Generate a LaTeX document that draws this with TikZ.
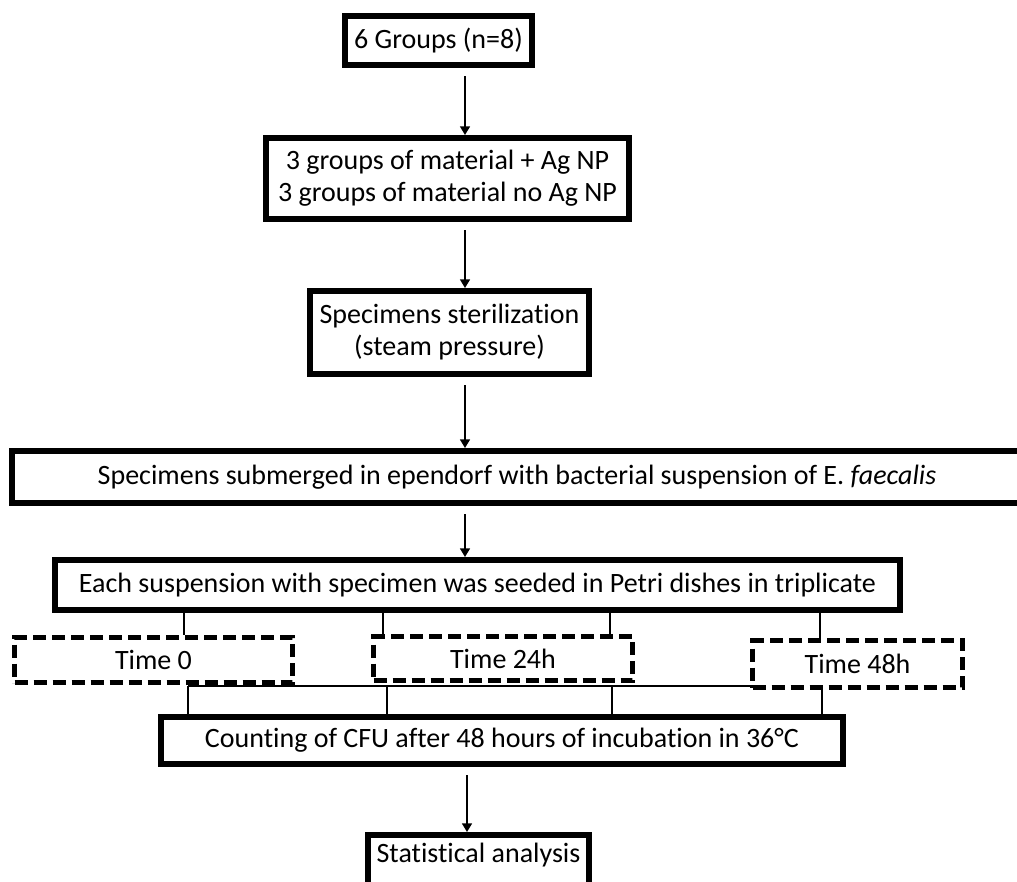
\documentclass[tikz,border=0pt]{standalone}
\usepackage{fontspec}
\setmainfont{Carlito}[Ligatures=NoCommon]
\usetikzlibrary{arrows.meta}
\usetikzlibrary{backgrounds}

\tikzset{
        stagebox/.style = {draw, line width=6pt, fill=white, inner sep=0pt, align=center},
        timebox/.style  = {draw, line width=5pt, fill=white, inner sep=0pt, dash pattern=on 13pt off 6pt},
        flow/.style     = {line width=1.5pt, arrows = -{Triangle[angle=60:10pt]}, shorten <=8pt},
        link/.style     = {line width=1.5pt}
}

\begin{document}
\begin{tikzpicture}[x=1pt, y=-1pt, font=\fontsize{28}{32}\selectfont]

        \useasboundingbox (0,0) rectangle (1017,881);
        \clip (0,0) rectangle (1017,881);

        % \draw [help lines, step=50] (0,0) grid (1017,881);

        \coordinate (axis) at (465,0);

        \path   (438.5,40.5) node (groups)   [stagebox, minimum width=187, minimum height=49] {6 Groups (n=8)}
                (447.5,178.5) node (material) [stagebox, minimum width=363, minimum height=81]
                        {3 groups of material + Ag NP\\3 groups of material no Ag NP}
                (449.5,332.5) node (steril)   [stagebox, minimum width=279, minimum height=83]
                        {Specimens sterilization\\(steam pressure)}
                (517,477)     node (submerge) [stagebox, minimum width=1010, minimum height=52]
                        {Specimens submerged in ependorf with bacterial suspension of E. \textit{faecalis}}
                (477.5,585)   node (seed)     [stagebox, minimum width=845, minimum height=50]
                        {Each suspension with specimen was seeded in Petri dishes in triplicate}
                (153.5,660)   node (t0)       [timebox, minimum width=278, minimum height=45] {Time 0}
                (503,658.5)   node (t24)      [timebox, minimum width=259, minimum height=44] {Time 24h}
                (857.5,664)   node (t48)      [timebox, minimum width=210, minimum height=47] {Time 48h}
                (502,740.5)   node (count)    [stagebox, minimum width=682, minimum height=47]
                        {Counting of CFU after 48 hours of incubation in 36°C}
                (478.5,832)   node (stats)    [stagebox, anchor=north, minimum width=221,
                                               inner ysep=5pt, text height=22pt, text depth=45pt]
                        {Statistical analysis};

        \draw[flow] (groups.south -| axis) -- (material.north -| axis);
        \draw[flow] (material.south -| axis) -- (steril.north -| axis);
        \draw[flow] (steril.south -| axis) -- (submerge.north -| axis);
        \draw[flow] (submerge.south -| axis) -- (seed.north -| axis);
        \draw[flow] (count.south -| 467,0) -- (stats.north -| 467,0);

        \begin{scope}[on background layer]
        \draw[link] (seed.south -| 184,0) -- (t0.north -| 184,0);
        \draw[link] (seed.south -| 383,0) -- (t24.north -| 383,0);
        \draw[link] (seed.south -| 610,0) -- (t24.north -| 610,0);
        \draw[link] (seed.south -| 820,0) -- (t48.north -| 820,0);

        \coordinate (busw) at (188,686);
        \coordinate (buse) at (822,686);
        \draw[link] (busw) -- (buse);
        \foreach \x in {188,387,612,822}
                \draw[link] (\x,686) -- (count.north -| \x,0);
        \end{scope}

\end{tikzpicture}
\end{document}
